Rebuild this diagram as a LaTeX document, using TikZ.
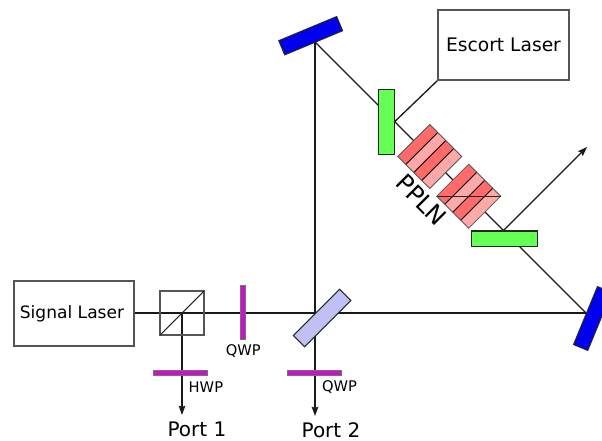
\documentclass[tikz,border=0pt]{standalone}
\usepackage{fontspec}
\setmainfont{DejaVu Sans}
\usetikzlibrary{arrows.meta,backgrounds}
\definecolor{boxline}{HTML}{555555}
\definecolor{grn}{HTML}{66FF55}
\definecolor{mag}{HTML}{CC11CC}
\definecolor{mirr}{HTML}{0000EE}
\definecolor{bsc}{HTML}{C0C0F5}
\definecolor{rdark}{HTML}{FF6A6A}
\definecolor{rlight}{HTML}{FFA8A8}
\tikzset{
  x=0.75pt,y=-0.75pt,
  beam/.style={draw=black!90,line width=1pt},
  arrowbeam/.style={beam,-{Stealth[length=7pt,width=5pt,inset=1pt]}},
  laser/.style={draw=boxline,line width=0.8pt,inner sep=0pt,outer sep=0pt},
  optic/.style={draw=black!85,line width=0.8pt,inner sep=0pt,outer sep=0pt},
  plate/.style={optic,fill=mag,draw=black!55,line width=0.5pt},
  filt/.style={optic,fill=grn},
  mirror/.style={optic,fill=mirr,minimum width=47pt,minimum height=11.5pt},
  small/.style={font=\fontsize{11}{13}\selectfont,inner sep=0pt},
  port/.style={font=\fontsize{15}{17}\selectfont,inner sep=0pt},
  crystal/.pic={
    \foreach \k/\c in {0/rdark,1/rlight,2/rdark,3/rlight}{
      \fill[fill=\c]
        (8*\k,-32+8*\k) -- (8*\k+8,-24+8*\k) -- (8*\k-24,8+8*\k) -- (8*\k-32,8*\k) -- cycle;
    }
    \foreach \k in {1,2,3}{
      \draw[black,line width=0.7pt] (8*\k,-32+8*\k) -- (8*\k-32,8*\k);
    }
    \draw[black!65,line width=0.6pt] (0,-32) -- (32,0) -- (0,32) -- (-32,0) -- cycle;
  }
}
\begin{document}
\begin{tikzpicture}
\useasboundingbox (0,0) rectangle (602,440);
% nodes
\node[laser,minimum width=90pt,minimum height=48.75pt,font=\fontsize{12.8}{15}\selectfont] (signal) at (74,313.5) {Signal Laser\kern3pt\mbox{}};
\node[laser,minimum width=98.25pt,minimum height=52.5pt,font=\fontsize{14}{16}\selectfont] (escort) at (503.5,45) {Escort Laser};
\node[draw=boxline,line width=0.8pt,minimum size=33pt,inner sep=0pt,outer sep=0pt] (cube) at (182,313) {};
\node[plate,minimum width=3.5pt,minimum height=40.5pt] (qwpa) at (242.8,312.5) {};
\node[plate,minimum width=40.5pt,minimum height=4pt] (hwp) at (180.5,373) {};
\node[plate,minimum width=40.5pt,minimum height=4pt] (qwpb) at (314.6,373) {};
\node[optic,fill=bsc,minimum width=49pt,minimum height=12pt,rotate=45] (bs) at (322.1,318) {};
\node[filt,minimum width=12pt,minimum height=49pt] (fa) at (386.3,122.2) {};
\node[filt,minimum width=49.5pt,minimum height=11.7pt] (fb) at (504.7,238.8) {};
\node[mirror,rotate=22.6] (ma) at (310.7,35.7) {};
\node[mirror,rotate=67.6] (mb) at (592.6,318.5) {};
\pic (ca) at (429.75,156.5) {crystal};
\pic (cb) at (468.7,196.2) {crystal};
\coordinate (hitA) at (315,42);
\coordinate (hitB) at (586,313);
\coordinate (hitEsc) at (394.3,122);
\coordinate (hitOut) at (503,231);
\coordinate (tipOut) at (587,147);
\coordinate (tipA) at (182,415);
\coordinate (tipB) at (315,416);
\coordinate (cleft) at (436.5,196.2);
\coordinate (cright) at (500.7,196.2);
\draw[line width=0.7pt,black!85] (cleft) -- (cright);
\draw[line width=0.8pt,black!85] (cube.south west) -- (cube.north east);
% connectors
\begin{pgfonlayer}{background}
\draw[beam] (signal.east |- hitB) -- (hitB);
\draw[beam] (hitA) -- (hitB);
\draw[arrowbeam] (hitA) -- (tipB);
\draw[arrowbeam] (cube.center) -- (tipA);
\draw[beam] (escort.south west) -- (hitEsc);
\draw[arrowbeam] (hitOut) -- (tipOut);
\end{pgfonlayer}
% labels
\node[small] (lqa) at (243.2,350.5) {QWP};
\node[small] (lhw) at (205.9,387.3) {HWP};
\node[small] (lqb) at (339.6,386.7) {QWP};
\node[port] (pa) at (196.9,429.3) {Port 1};
\node[port] (pb) at (331,430.2) {Port 2};
\node[font=\fontsize{18}{20}\selectfont,inner sep=0pt,rotate=-45] (ppln) at (421.5,200) {PPLN};
\end{tikzpicture}
\end{document}
